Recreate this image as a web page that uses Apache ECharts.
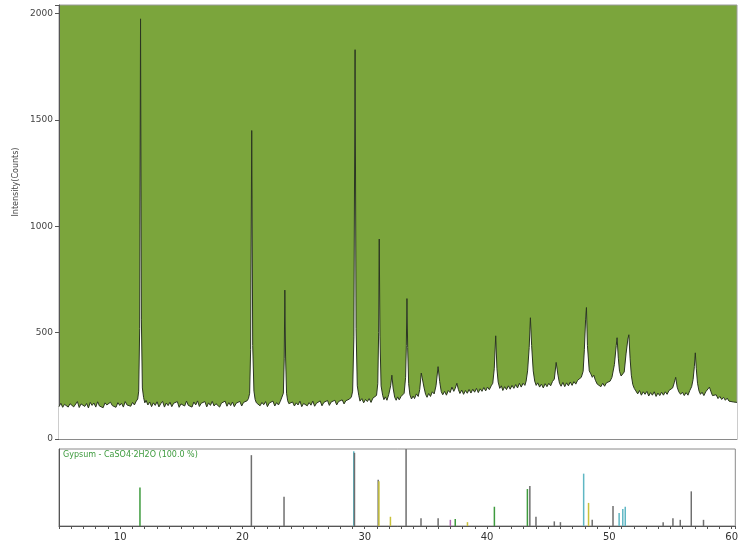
<!DOCTYPE html>
<html>
<head>
<meta charset="utf-8">
<script src="https://cdn.jsdelivr.net/npm/echarts@6/dist/echarts.min.js"></script>
<style>
  html, body { margin: 0; padding: 0; background: #fff; }
  #main { width: 741px; height: 546px; }
</style>
</head>
<body>
<div id="main"></div>
<script>
// measured scan: [2theta, counts]
const scan = [
  [5.0,152],[5.15,168],[5.3,149],[5.45,163],[5.6,171],[5.75,150],[5.9,166],[6.05,174],[6.2,151],[6.35,160],
  [6.5,176],[6.65,148],[6.8,165],[6.95,170],[7.1,153],[7.25,167],[7.4,146],[7.55,172],[7.7,158],[7.85,169],
  [8.0,150],[8.15,175],[8.3,155],[8.45,164],[8.6,147],[8.75,170],[8.9,160],[9.05,151],[9.2,173],[9.35,157],
  [9.5,166],[9.65,149],[9.8,171],[9.95,158],[10.1,168],[10.25,150],[10.4,176],[10.55,160],[10.7,166],[10.85,154],
  [11.0,172],[11.15,160],[11.3,178],
  [11.42,188],[11.5,225],[11.58,520],[11.65,1975],[11.72,560],[11.8,240],[11.9,195],[12.0,170],[12.1,182],
  [12.25,160],[12.4,174],[12.55,152],[12.7,170],[12.85,158],[13.0,175],[13.15,151],[13.3,166],[13.45,177],[13.6,150],
  [13.75,169],[13.9,157],[14.05,173],[14.2,152],[14.35,168],[14.5,160],[14.65,176],[14.8,149],[14.95,165],[15.1,171],
  [15.25,155],[15.4,178],[15.55,158],[15.7,167],[15.85,150],[16.0,174],[16.15,160],[16.3,179],[16.45,153],[16.6,168],
  [16.75,161],[16.9,176],[17.05,151],[17.2,170],[17.35,158],[17.5,177],[17.65,155],[17.8,166],[17.95,172],[18.1,150],
  [18.25,169],[18.4,160],[18.55,178],[18.7,154],[18.85,171],[19.0,157],[19.15,174],[19.3,152],[19.45,168],[19.6,163],
  [19.75,177],[19.9,155],[20.05,172],[20.2,165],[20.35,180],[20.45,190],
  [20.55,215],[20.63,420],[20.72,1450],[20.8,440],[20.9,225],[21.0,185],[21.1,170],[21.25,178],
  [21.4,156],[21.55,172],[21.7,161],[21.85,176],[22.0,152],[22.15,169],[22.3,163],[22.45,178],[22.6,155],[22.75,171],
  [22.9,160],[23.05,177],[23.2,185],
  [23.3,215],[23.37,380],[23.42,700],[23.48,390],[23.56,215],[23.65,180],[23.75,166],
  [23.9,158],[24.05,174],[24.2,155],[24.35,170],[24.5,160],[24.65,178],[24.8,152],[24.95,167],[25.1,173],[25.25,156],
  [25.4,171],[25.55,159],[25.7,178],[25.85,154],[26.0,168],[26.15,162],[26.3,179],[26.45,156],[26.6,172],[26.75,165],
  [26.9,181],[27.05,158],[27.2,174],[27.35,167],[27.5,182],[27.65,160],[27.8,176],[27.95,170],[28.1,184],[28.25,165],
  [28.4,180],[28.55,175],[28.7,188],[28.85,198],
  [28.95,225],[29.05,480],[29.15,1830],[29.23,520],[29.33,250],[29.45,205],[29.55,178],[29.7,190],
  [29.85,170],[30.0,186],[30.15,176],[30.3,190],[30.45,172],[30.6,192],[30.75,185],[30.9,205],
  [31.0,260],[31.07,500],[31.12,940],[31.18,480],[31.27,250],[31.4,205],[31.5,185],
  [31.62,198],[31.75,182],[31.9,210],[32.05,250],[32.15,300],[32.25,240],[32.38,196],[32.5,182],[32.62,198],[32.75,184],
  [32.9,200],[33.05,192],[33.15,215],
  [33.27,290],[33.33,440],[33.38,660],[33.44,430],[33.52,260],[33.62,208],[33.75,188],
  [33.88,202],[34.0,190],[34.15,212],[34.3,200],[34.42,232],[34.55,310],[34.65,315],[34.78,240],[34.9,210],[35.02,196],
  [35.15,214],[35.3,200],[35.45,222],[35.6,212],[35.75,250],[35.92,340],[36.05,270],[36.18,222],[36.3,208],[36.45,224],
  [36.6,206],[36.75,228],[36.9,218],[37.05,244],[37.2,224],[37.32,238],[37.45,262],[37.58,232],[37.7,214],[37.85,230],
  [38.0,210],[38.15,228],[38.3,215],[38.45,233],[38.6,216],[38.75,234],[38.9,220],[39.05,238],[39.2,218],[39.35,236],
  [39.5,224],[39.65,242],[39.8,226],[39.95,244],[40.1,232],[40.25,250],[40.38,262],[40.5,330],
  [40.62,485],[40.72,330],[40.82,268],[40.95,238],[41.08,250],
  [41.2,228],[41.35,246],[41.5,232],[41.65,250],[41.8,234],[41.95,252],[42.1,238],[42.25,256],[42.4,240],[42.55,262],
  [42.7,244],[42.85,262],[43.0,252],[43.1,272],[43.22,320],
  [43.35,430],[43.45,570],[43.55,440],[43.68,320],[43.8,272],[43.92,252],
  [44.05,264],[44.2,244],[44.35,258],[44.5,240],[44.65,260],[44.8,246],[44.95,262],[45.1,250],[45.25,270],[45.4,282],
  [45.55,360],[45.7,300],[45.82,262],[45.95,248],[46.1,266],[46.25,246],[46.4,264],[46.55,250],[46.7,268],[46.85,252],
  [47.0,270],[47.15,258],[47.3,276],[47.45,268],[47.6,290],[47.75,318],[47.85,420],
  [47.95,560],[48.02,618],[48.1,440],[48.25,320],[48.38,306],[48.5,290],[48.62,300],[48.75,276],[48.9,258],[49.05,266],
  [49.2,246],[49.35,262],[49.5,248],[49.65,264],[49.8,256],[49.95,272],[50.1,290],[50.3,350],
  [50.45,440],[50.52,476],[50.62,380],[50.72,318],[50.85,296],[50.98,304],[51.1,315],[51.25,400],
  [51.4,470],[51.48,490],[51.58,380],[51.68,300],[51.8,256],[51.92,238],
  [52.05,226],[52.2,212],[52.35,228],[52.5,206],[52.65,222],[52.8,210],[52.95,224],[53.1,202],[53.25,218],[53.4,206],
  [53.55,222],[53.7,200],[53.85,216],[54.0,204],[54.15,220],[54.3,206],[54.45,222],[54.6,210],[54.75,228],[54.9,220],
  [55.05,240],[55.18,264],[55.3,290],[55.42,244],[55.55,222],[55.7,210],[55.85,220],[56.0,204],[56.15,218],[56.3,206],
  [56.45,228],[56.6,246],[56.72,280],
  [56.82,340],[56.9,405],[56.98,330],[57.08,262],[57.2,226],[57.32,210],
  [57.45,220],[57.6,204],[57.75,222],[57.9,214],[58.05,244],[58.18,222],[58.3,204],[58.45,198],[58.6,208],[58.75,190],
  [58.9,200],[59.05,186],[59.2,196],[59.35,182],[59.5,192],[59.65,178],[59.8,186],[60.0,174],[60.15,182],[60.3,172]
];

// reference pattern sticks (relative intensity, phase index)
const stickAngles = [11.62, 20.73, 23.40, 29.10, 29.16, 31.10, 31.16, 32.10, 33.38, 34.60, 36.00, 37.00, 37.40, 38.40,
  40.60, 43.30, 43.50, 44.00, 45.50, 46.00, 47.90, 48.30, 48.60, 50.30, 50.80, 51.10, 51.30, 54.40, 55.20, 55.80, 56.70, 57.70];
const stickRel = [50, 92, 38, 97, 95, 60, 58, 12, 100, 10, 10, 8, 9, 5,
  25, 48, 52, 12, 6, 5, 68, 30, 8, 26, 17, 22, 25, 5, 10, 8, 45, 8];
const stickPhase = [3, 0, 0, 1, 0, 0, 2, 2, 0, 0, 0, 4, 3, 2,
  3, 3, 0, 0, 0, 0, 1, 2, 0, 0, 1, 1, 1, 0, 0, 0, 0, 0];

const phaseLabel = 'Gypsum - CaSO4·2H2O (100.0 %)';

const phaseColors = ['#6f6f6f', '#5fb7c4', '#c9c23a', '#3e9b3e', '#b06ab3'];

const chart = echarts.init(document.getElementById('main'));
chart.setOption({
  animation: false,
  grid: [
    { left: 59, right: 4, top: 5, height: 434, show: true, backgroundColor: '#7ba53c', borderColor: '#9a9a9a', borderWidth: 1 },
    { left: 59, right: 4, top: 449, height: 77, show: true, backgroundColor: '#ffffff', borderColor: '#8a8a8a', borderWidth: 1 }
  ],
  xAxis: [
    {
      type: 'value', gridIndex: 0, min: 5, max: 60.3,
      axisLine: { show: true, lineStyle: { color: '#8a8a8a' } },
      axisTick: { show: false }, axisLabel: { show: false }, splitLine: { show: false }
    },
    {
      type: 'value', gridIndex: 1, min: 5, max: 60.3, interval: 1,
      axisLine: { show: true, lineStyle: { color: '#555' } },
      axisTick: { show: true, length: 3, lineStyle: { color: '#555' } },
      axisLabel: {
        color: '#333', fontSize: 10, fontFamily: 'DejaVu Sans', margin: 6,
        formatter: v => (v % 10 === 0 ? String(v) : '')
      },
      splitLine: { show: false }
    }
  ],
  yAxis: [
    {
      type: 'value', gridIndex: 0, min: 0, max: 2040, interval: 500,
      axisLine: { show: true, lineStyle: { color: '#555' } },
      axisTick: { show: true, length: 4, lineStyle: { color: '#555' } },
      axisLabel: {
        color: '#444', fontSize: 9, fontFamily: 'DejaVu Sans', margin: 6,
        formatter: v => (v % 500 === 0 ? String(v) : '')
      },
      splitLine: { show: false }
    },
    {
      type: 'value', gridIndex: 1, min: 0, max: 100,
      axisLine: { show: true, lineStyle: { color: '#555' } },
      axisTick: { show: false }, axisLabel: { show: false }, splitLine: { show: false }
    }
  ],
  graphic: [
    {
      type: 'text', x: 16, y: 182, rotation: Math.PI / 2,
      style: { text: 'Intensity(Counts)', fill: '#444', font: '8px "DejaVu Sans"', align: 'center', verticalAlign: 'middle' }
    },
    {
      type: 'text', left: 63, top: 451,
      style: { text: phaseLabel, fill: '#3e9b3e', font: '8px "DejaVu Sans"' }
    }
  ],
  series: [
    {
      type: 'line', xAxisIndex: 0, yAxisIndex: 0,
      data: scan, showSymbol: false, smooth: false,
      lineStyle: { color: '#2b3621', width: 1 },
      areaStyle: { color: '#ffffff', opacity: 1, origin: 'start' }
    },
    {
      type: 'bar', xAxisIndex: 1, yAxisIndex: 1, barWidth: 1.5,
      data: stickAngles.map((a, i) => ({
        value: [a, stickRel[i]],
        itemStyle: { color: phaseColors[stickPhase[i]] }
      }))
    }
  ]
});
</script>
</body>
</html>
